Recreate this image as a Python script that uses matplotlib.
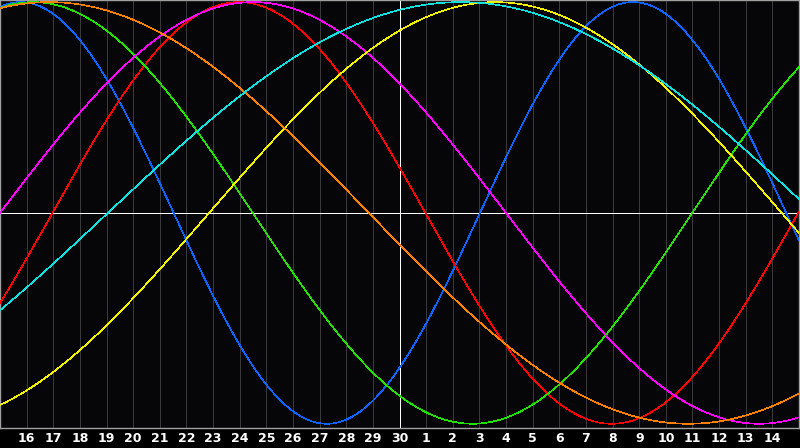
import numpy as np
import matplotlib
matplotlib.use("Agg")
import matplotlib.pyplot as plt

# day labels along the bottom (index 1..29), index 0 and 30 are the edges
day_labels = [str(d) for d in range(16, 31)] + [str(d) for d in range(1, 15)]
today_index = 15  # the "30" column, white marker line

# cycles: period in days, index of the day the curve peaks, colour
cycle_names = ["physical", "emotional", "intellectual", "intuitive",
               "aesthetic", "awareness", "spiritual"]
periods = [23, 28, 33, 38, 43, 48, 53]
peak_day = [23.77, 8.97, 1.24, 9.5, 18.6, 1.85, 17.3]
colors = ["#0a64ff", "#ff0000", "#22e000", "#ff00ff",
          "#f0f000", "#ff8000", "#10e0e0"]

n_days = len(day_labels) + 1
t = np.linspace(0, n_days, 1200)

fig = plt.figure(figsize=(8, 4.48), dpi=100, facecolor="#000000")
ax = fig.add_axes([0, 20 / 448, 799 / 800, 428 / 448])
ax.set_facecolor("#060608")

# day grid
for i in range(1, n_days):
    ax.axvline(i, color="#3a3a3a", lw=0.72, zorder=1, antialiased=False)
ax.axhline(0, color="white", lw=0.72, zorder=2, antialiased=False)
ax.axvline(today_index, color="white", lw=0.72, zorder=2, antialiased=False)

for p, pk, c in zip(periods, peak_day, colors):
    y = np.cos(2 * np.pi * (t - pk) / p)
    ax.plot(t, y, color=c, lw=0.45, zorder=3, antialiased=False)

ax.set_xlim(0, n_days)
ax.set_ylim(-1.02, 1.01)
ax.set_xticks([])
ax.set_yticks([])
for s in ax.spines.values():
    s.set_color("#a0a0a0")
    s.set_linewidth(1.0)

for i, lab in enumerate(day_labels, start=1):
    ax.text(i, -1.07, lab, color="white", fontsize=9, fontweight="bold",
            ha="center", va="center", family="DejaVu Sans")

fig.savefig("out.png", dpi=100, facecolor="#000000")
